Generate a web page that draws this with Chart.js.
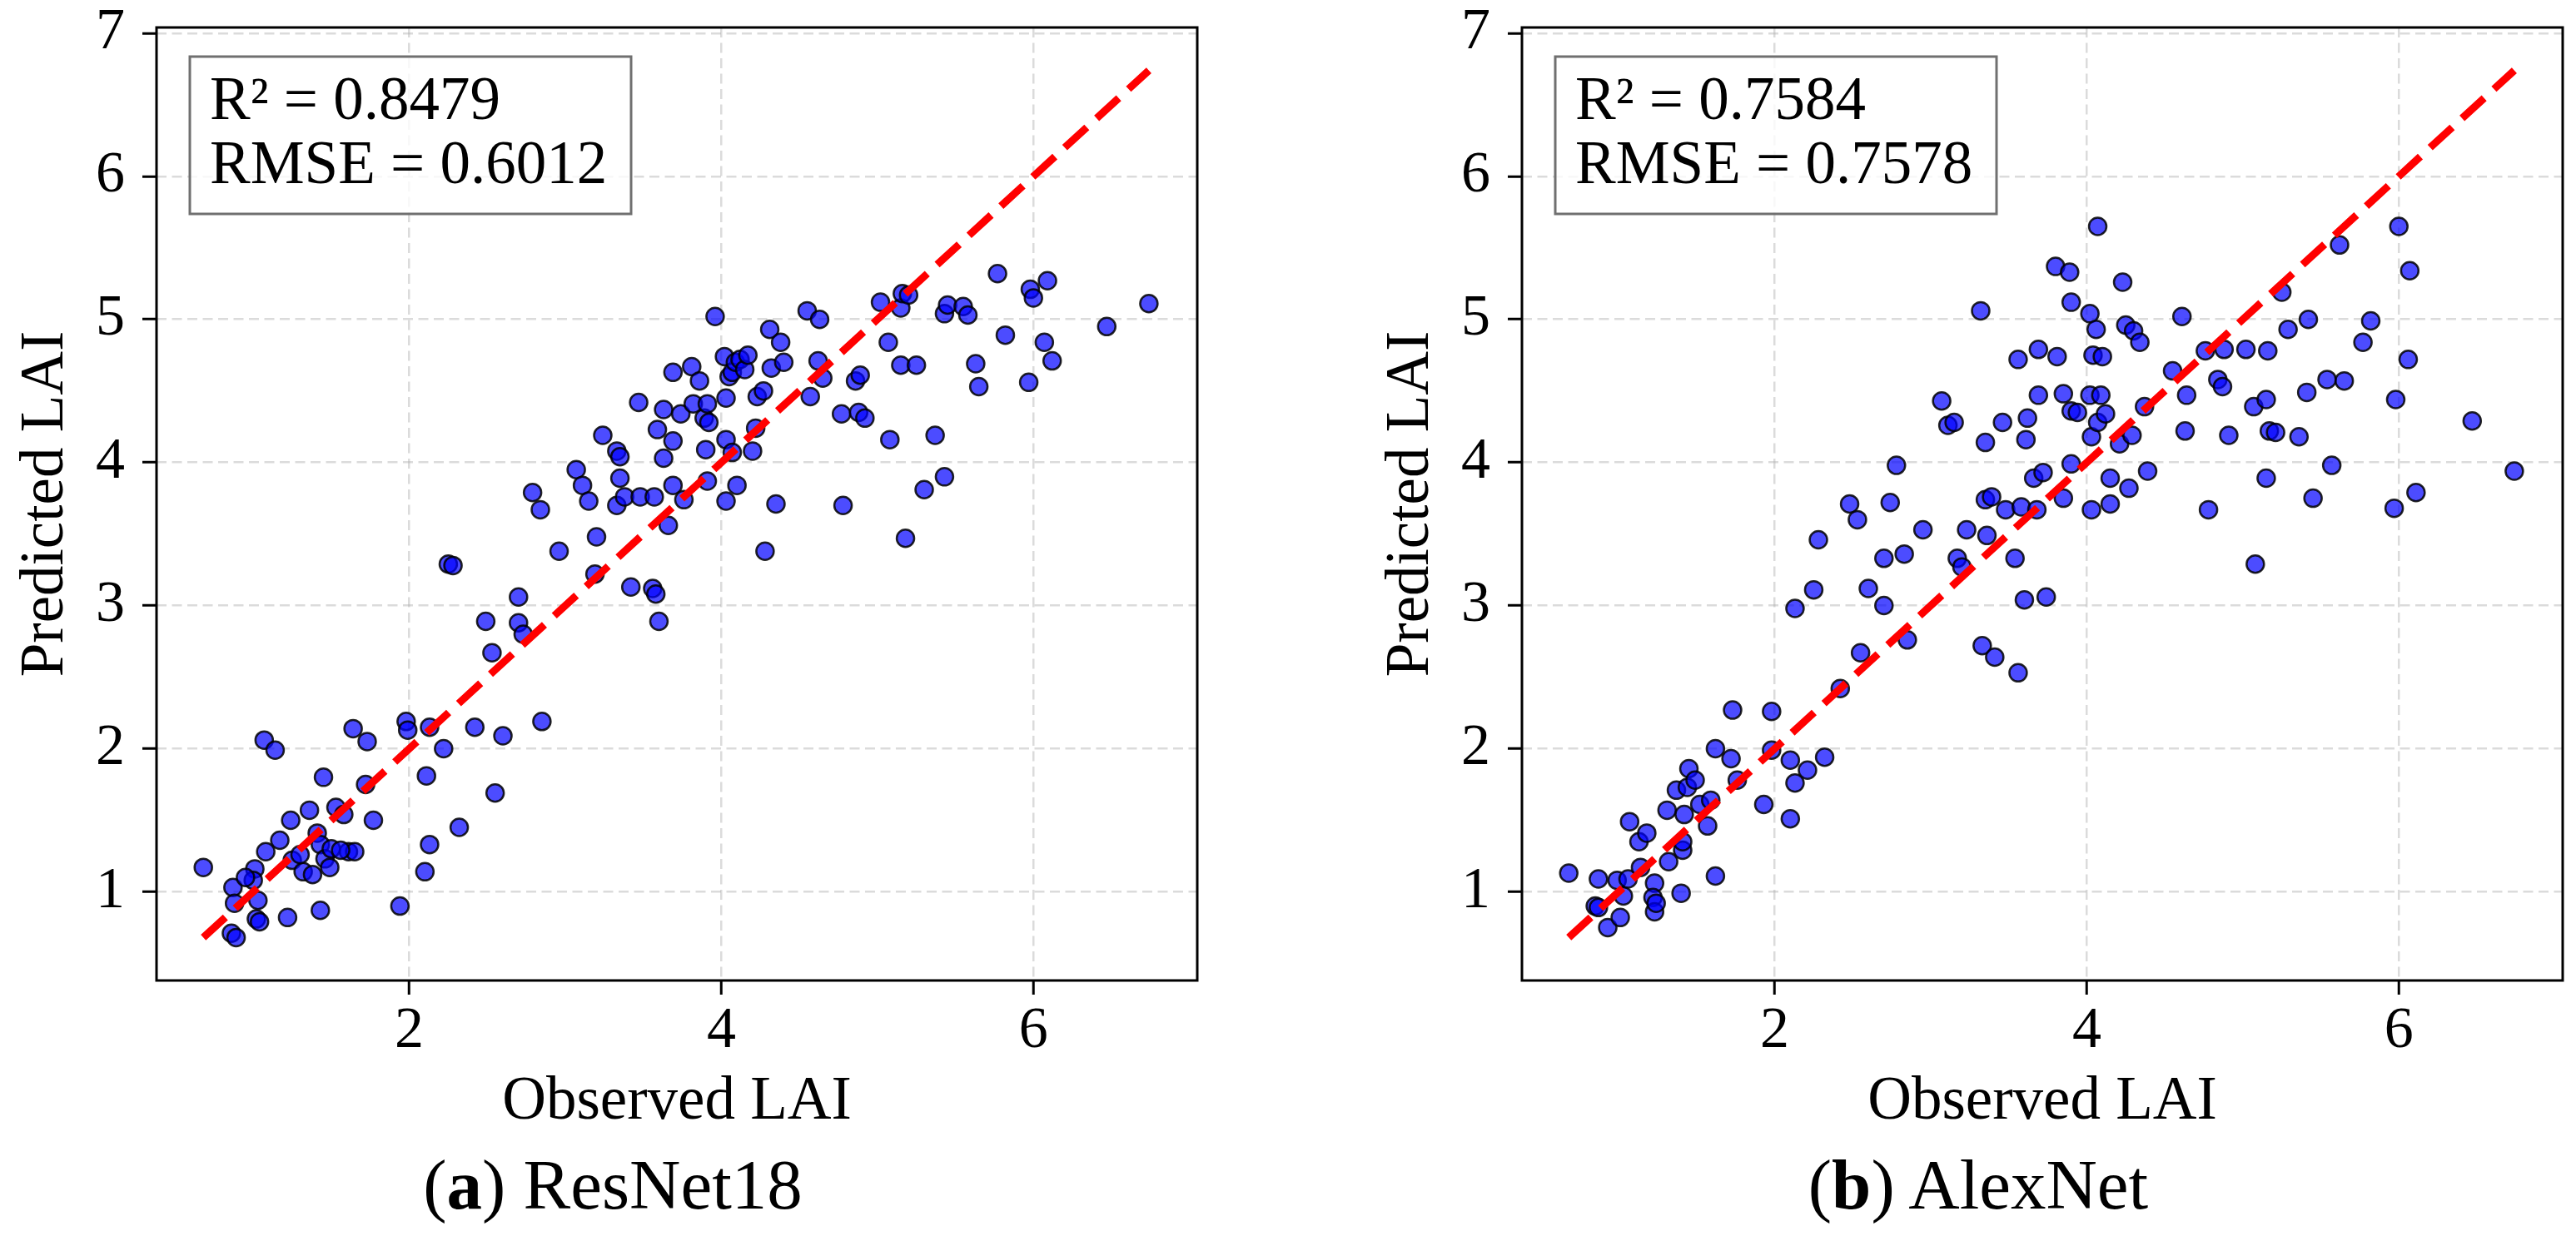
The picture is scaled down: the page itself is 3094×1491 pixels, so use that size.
<!DOCTYPE html>
<html>
<head>
<meta charset="utf-8">
<script src="https://cdn.jsdelivr.net/npm/chart.js@4.4.0/dist/chart.umd.min.js"></script>
<style>
  body { margin: 0; background: #fff; }
  #wrap { position: relative; width: 3094px; height: 1491px; background: #fff; font-family: "Liberation Serif", "Times New Roman", serif; }
  canvas { position: absolute; top: 0; }
  .cap { position: absolute; top: 1381px; width: 800px; text-align: center; font-size: 85px; line-height: 85px; color: #000; }
</style>
</head>
<body>
<div id="wrap">
  <canvas id="resnet" width="1520" height="1388" style="left:0px"></canvas>
  <canvas id="alexnet" width="1454" height="1388" style="left:1640px"></canvas>
  <div class="cap" style="left:336px">(<b>a</b>) ResNet18</div>
  <div class="cap" style="left:1976px">(<b>b</b>) AlexNet</div>
</div>
<script>
const FONT = '"Liberation Serif", "Times New Roman", serif';

// ticks
const xTicks = [2, 4, 6];
const yTicks = [1, 2, 3, 4, 5, 6, 7];

// (a) ResNet18 - observed vs predicted
const resnetObs = [
  0.68, 0.87, 0.88, 0.86, 0.89, 1.01, 1.00, 1.03, 1.02, 1.04, 1.07, 1.14, 1.08, 1.17, 1.24, 1.22,
  1.25, 1.32, 1.36, 1.38, 1.41, 1.43, 1.43, 1.45, 1.46, 1.49, 1.53, 1.58, 1.61, 1.65, 1.64, 1.73,
  1.72, 1.77, 1.94, 1.98, 1.99, 2.11, 2.13, 2.13, 2.10, 2.22, 2.25, 2.28, 2.32, 2.42, 2.49, 2.53,
  2.55, 2.60, 2.70, 2.70, 2.73, 2.79, 2.84, 2.85, 2.96, 3.07, 3.11, 3.15, 3.20, 3.19, 3.24, 3.33,
  3.35, 3.35, 3.33, 3.38, 3.42, 3.47, 3.48, 3.57, 3.56, 3.58, 3.60, 3.59, 3.63, 3.63, 3.66, 3.69,
  3.69, 3.69, 3.74, 3.76, 3.81, 3.82, 3.86, 3.89, 3.91, 3.92, 3.90, 3.91, 3.96, 4.02, 4.03, 4.03,
  4.05, 4.07, 4.09, 4.12, 4.15, 4.03, 4.10, 4.07, 4.17, 4.20, 4.22, 4.23, 4.27, 4.28, 4.31, 4.32,
  4.35, 4.38, 4.40, 4.55, 4.57, 4.63, 4.62, 4.65, 4.77, 4.78, 4.86, 4.89, 4.88, 4.92, 5.02, 5.07,
  5.08, 5.15, 5.16, 5.20, 5.15, 5.25, 5.18, 5.30, 5.37, 5.43, 5.43, 5.45, 5.55, 5.58, 5.63, 5.65,
  5.77, 5.82, 5.97, 5.98, 6.00, 6.07, 6.09, 6.12, 6.47, 6.74, 1.30, 1.50, 1.56, 0.95
];
const resnetPred = [
  1.17, 1.03, 0.92, 0.71, 0.68, 1.16, 1.08, 0.94, 0.81, 0.79, 2.06, 1.99, 1.28, 1.36, 1.50, 0.82,
  1.22, 1.14, 1.57, 1.12, 1.41, 1.33, 0.87, 1.80, 1.23, 1.17, 1.59, 1.54, 1.28, 1.28, 2.14, 2.05,
  1.75, 1.50, 0.90, 2.19, 2.13, 1.81, 2.15, 1.33, 1.14, 2.00, 3.29, 3.28, 1.45, 2.15, 2.89, 2.67,
  1.69, 2.09, 3.06, 2.88, 2.80, 3.79, 3.67, 2.19, 3.38, 3.95, 3.84, 3.73, 3.48, 3.22, 4.19, 4.08,
  4.04, 3.89, 3.70, 3.76, 3.13, 4.42, 3.76, 3.76, 3.12, 3.08, 2.89, 4.23, 4.37, 4.03, 3.56, 4.63,
  4.15, 3.84, 4.34, 3.74, 4.67, 4.41, 4.57, 4.31, 4.41, 4.28, 4.09, 3.87, 5.02, 4.74, 4.45, 4.16,
  4.60, 4.63, 4.70, 4.72, 4.65, 3.73, 3.84, 4.07, 4.75, 4.08, 4.24, 4.46, 4.50, 3.38, 4.93, 4.66,
  3.71, 4.84, 4.70, 5.06, 4.46, 5.00, 4.71, 4.59, 4.34, 3.70, 4.57, 4.61, 4.35, 4.31, 5.12, 4.84,
  4.16, 5.08, 5.18, 5.17, 4.68, 4.68, 3.47, 3.81, 4.19, 3.90, 5.04, 5.10, 5.09, 5.03, 4.69, 4.53,
  5.32, 4.89, 4.56, 5.21, 5.15, 4.84, 5.27, 4.71, 4.95, 5.11, 1.26, 1.30, 1.29, 1.10
];

// (b) AlexNet - observed vs predicted
const alexObs = [
  0.68, 0.87, 0.85, 0.87, 0.93, 0.99, 1.01, 1.03, 1.06, 1.07, 1.13, 1.14, 1.18, 1.23, 1.22, 1.23,
  1.24, 1.31, 1.32, 1.37, 1.40, 1.41, 1.42, 1.44, 1.45, 1.41, 1.49, 1.52, 1.57, 1.59, 1.62, 1.62,
  1.72, 1.73, 1.76, 1.93, 1.98, 1.98, 2.10, 2.10, 2.13, 2.13, 2.21, 2.25, 2.28, 2.32, 2.42, 2.48,
  2.53, 2.55, 2.60, 2.70, 2.70, 2.74, 2.78, 2.83, 2.85, 2.95, 3.07, 3.11, 3.15, 3.17, 3.20, 3.23,
  3.32, 3.33, 3.35, 3.35, 3.36, 3.39, 3.41, 3.46, 3.48, 3.54, 3.56, 3.56, 3.58, 3.60, 3.61, 3.62,
  3.66, 3.68, 3.69, 3.69, 3.72, 3.74, 3.80, 3.81, 3.85, 3.85, 3.89, 3.90, 3.90, 3.90, 3.94, 4.02,
  4.02, 4.03, 4.03, 4.04, 4.06, 4.07, 4.07, 4.09, 4.10, 4.12, 4.15, 4.15, 4.21, 4.23, 4.25, 4.27,
  4.29, 4.30, 4.34, 4.37, 4.39, 4.55, 4.61, 4.63, 4.64, 4.76, 4.78, 4.84, 4.87, 4.88, 4.91, 5.02,
  5.07, 5.08, 5.15, 5.16, 5.15, 5.17, 5.21, 5.25, 5.29, 5.36, 5.41, 5.42, 5.45, 5.54, 5.57, 5.62,
  5.65, 5.77, 5.82, 5.97, 5.98, 6.00, 6.06, 6.07, 6.11, 6.47, 6.74
];
const alexPred = [
  1.13, 1.09, 0.90, 0.89, 0.75, 1.08, 0.82, 0.97, 1.09, 1.49, 1.35, 1.17, 1.41, 1.06, 0.96, 0.86,
  0.92, 1.57, 1.21, 1.71, 0.99, 1.29, 1.54, 1.73, 1.86, 1.35, 1.78, 1.61, 1.46, 1.64, 1.11, 2.00,
  1.93, 2.27, 1.78, 1.61, 2.26, 1.99, 1.51, 1.92, 1.76, 2.98, 1.85, 3.11, 3.46, 1.94, 2.42, 3.71,
  3.60, 2.67, 3.12, 3.33, 3.00, 3.72, 3.98, 3.36, 2.76, 3.53, 4.43, 4.26, 4.28, 3.33, 3.27, 3.53,
  5.06, 2.72, 4.14, 3.74, 3.49, 3.76, 2.64, 4.28, 3.67, 3.33, 4.72, 2.53, 3.69, 3.04, 4.16, 4.31,
  3.89, 3.67, 4.79, 4.47, 3.93, 3.06, 5.37, 4.74, 4.48, 3.75, 5.33, 4.36, 5.12, 3.99, 4.35, 5.04,
  4.47, 4.18, 3.67, 4.75, 4.93, 5.65, 4.28, 4.47, 4.74, 4.34, 3.89, 3.71, 4.13, 5.26, 4.96, 3.82,
  4.19, 4.92, 4.84, 4.39, 3.94, 4.64, 5.02, 4.22, 4.47, 4.78, 3.67, 4.58, 4.53, 4.79, 4.19, 4.79,
  4.39, 3.29, 4.44, 4.78, 3.89, 4.22, 4.21, 5.19, 4.93, 4.18, 4.49, 5.00, 3.75, 4.58, 3.98, 5.52,
  4.57, 4.84, 4.99, 3.68, 4.44, 5.65, 4.72, 5.34, 3.79, 4.29, 3.94
];

const resnetStats = ['R\u00B2 = 0.8479', 'RMSE = 0.6012'];
const alexStats = ['R\u00B2 = 0.7584', 'RMSE = 0.7578'];

// metrics box + axes frame
const statsBox = {
  id: 'statsBox',
  afterDraw(chart, args, opts) {
    const { ctx, chartArea: a } = chart;
    ctx.save();
    const bx = a.left + 40, by = a.top + 35;
    ctx.fillStyle = 'rgba(255,255,255,0.8)';
    ctx.fillRect(bx, by, 530, 189);
    ctx.strokeStyle = '#707070';
    ctx.lineWidth = 3;
    ctx.strokeRect(bx, by, 530, 189);
    ctx.fillStyle = '#000';
    ctx.font = '73px ' + FONT;
    ctx.textBaseline = 'alphabetic';
    ctx.textAlign = 'left';
    opts.lines.forEach((t, i) => ctx.fillText(t, bx + 24, by + 75 + i * 77));
    ctx.strokeStyle = '#000';
    ctx.lineWidth = 3;
    ctx.strokeRect(a.left, a.top, a.right - a.left, a.bottom - a.top);
    ctx.restore();
  }
};

function axisOpts(ticks, min, max, title) {
  return {
    type: 'linear',
    min: min,
    max: max,
    afterBuildTicks: s => { s.ticks = ticks.map(v => ({ value: v })); },
    grid: {
      color: 'rgba(176,176,176,0.45)',
      lineWidth: 2.5,
      drawTicks: true,
      tickLength: 17,
      tickColor: '#000',
      tickWidth: 3
    },
    border: { display: false, dash: [12, 6.5] },
    ticks: { color: '#000', font: { family: FONT, size: 70, lineHeight: 1 }, maxRotation: 0 },
    title: { display: true, text: title, color: '#000', font: { family: FONT, size: 73, lineHeight: 1 } }
  };
}

function makeChart(id, obs, pred, stats, padRight) {
  const lo = Math.min(...obs, ...pred);
  const hi = Math.max(...obs, ...pred);

  const x = axisOpts(xTicks, 0.38, 7.05, 'Observed LAI');
  x.afterFit = s => { s.height = 210; s.paddingLeft = 0; s.paddingRight = 0; };
  x.ticks.padding = 10;
  x.title.padding = { top: 0, bottom: 27 };

  const y = axisOpts(yTicks, 0.38, 7.04, 'Predicted LAI');
  y.afterFit = s => { s.width = 188; s.paddingTop = 0; s.paddingBottom = 0; };
  y.ticks.padding = 21;
  y.title.padding = { top: 19.5, bottom: 0 };

  return new Chart(document.getElementById(id), {
    type: 'scatter',
    data: {
      datasets: [
        {
          label: '1:1',
          data: [{ x: lo, y: lo }, { x: hi, y: hi }],
          showLine: true,
          borderColor: '#ff0000',
          borderWidth: 9,
          borderDash: [36, 16],
          pointRadius: 0,
          order: 0
        },
        {
          label: 'LAI',
          data: obs.map((v, i) => ({ x: v, y: pred[i] })),
          backgroundColor: 'rgba(0,0,255,0.7)',
          borderColor: 'rgba(0,0,0,0.85)',
          borderWidth: 2.5,
          pointRadius: 10.5,
          pointHoverRadius: 10.5,
          order: 1
        }
      ]
    },
    options: {
      responsive: false,
      devicePixelRatio: 1,
      animation: false,
      events: [],
      layout: { padding: { left: 0, top: 33, right: padRight, bottom: 0 } },
      plugins: {
        legend: { display: false },
        tooltip: { enabled: false },
        statsBox: { lines: stats }
      },
      scales: { x: x, y: y }
    },
    plugins: [statsBox]
  });
}

makeChart('resnet', resnetObs, resnetPred, resnetStats, 82);
makeChart('alexnet', alexObs, alexPred, alexStats, 16);
</script>
</body>
</html>
